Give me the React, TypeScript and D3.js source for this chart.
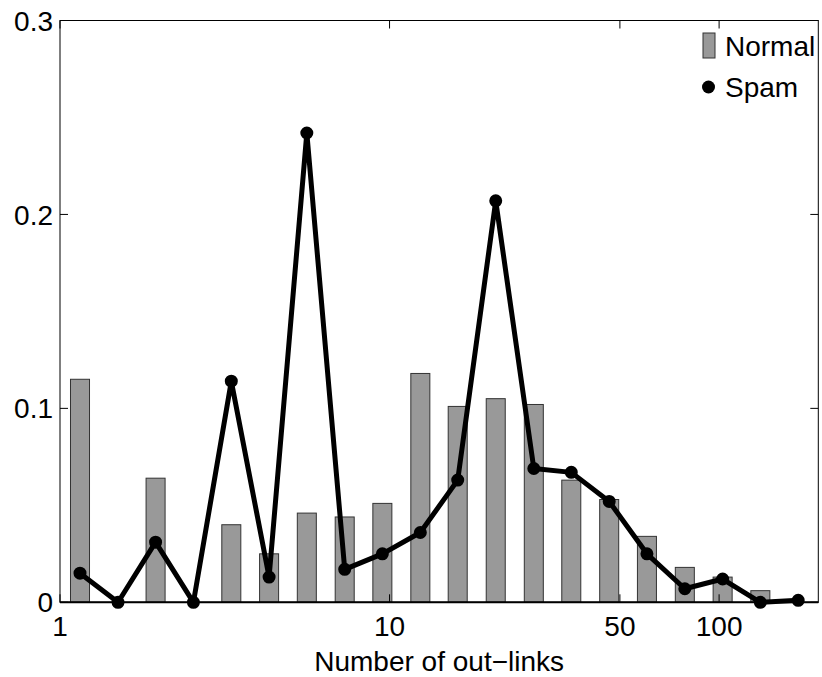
import React, { useEffect, useRef } from "react";
import * as d3 from "d3";

// bin centres (number of out-links)
const bins = [1.15, 1.5, 1.95, 2.54, 3.31, 4.31, 5.61, 7.31, 9.51, 12.4, 16.1, 21.0, 27.4, 35.6, 46.4, 60.4, 78.7, 102.5, 133.4, 173.8];
const normal = [0.115, 0, 0.064, 0, 0.040, 0.025, 0.046, 0.044, 0.051, 0.118, 0.101, 0.105, 0.102, 0.063, 0.053, 0.034, 0.018, 0.013, 0.006, 0];
const spam = [0.015, 0, 0.031, 0, 0.114, 0.013, 0.242, 0.017, 0.025, 0.036, 0.063, 0.207, 0.069, 0.067, 0.052, 0.025, 0.007, 0.012, 0, 0.001];
const xTicks = [1, 10, 50, 100];
const yTicks = [0, 0.1, 0.2, 0.3];
const xLabel = "Number of out\u2212links";

const W = 822;
const H = 677;
const FONT = "'Liberation Sans', Arial, Helvetica, sans-serif";

const Chart = () => {
  const ref = useRef<SVGSVGElement>(null);

  useEffect(() => {
    const svg = d3.select(ref.current);
    svg.selectAll("*").remove();

    const left = 60, right = 818.3, top = 20.5, bottom = 602.3;

    const x = d3.scaleLog().domain([1, 200]).range([left, right]);
    const y = d3.scaleLinear().domain([0, 0.3]).range([bottom, top]);

    const barW = (x(bins[1]) - x(bins[0])) * 0.5;

    // normal bars
    svg.append("g")
      .selectAll("rect")
      .data(bins.map((b, i) => ({ b, v: normal[i] })).filter(d => d.v > 0))
      .enter()
      .append("rect")
      .attr("x", d => x(d.b) - barW / 2)
      .attr("y", d => y(d.v))
      .attr("width", barW)
      .attr("height", d => y(0) - y(d.v))
      .attr("fill", "#999999")
      .attr("stroke", "#333")
      .attr("stroke-width", 1);

    // axes box
    svg.append("rect")
      .attr("x", left).attr("y", top)
      .attr("width", right - left).attr("height", bottom - top)
      .attr("fill", "none").attr("stroke", "#000").attr("stroke-width", 1);
    svg.append("line")
      .attr("x1", left).attr("x2", right)
      .attr("y1", bottom).attr("y2", bottom)
      .attr("stroke", "#000").attr("stroke-width", 2);

    const tl = 8;
    yTicks.forEach(t => {
      svg.append("line").attr("x1", left).attr("x2", left + tl).attr("y1", y(t)).attr("y2", y(t)).attr("stroke", "#000");
      svg.append("line").attr("x1", right - tl).attr("x2", right).attr("y1", y(t)).attr("y2", y(t)).attr("stroke", "#000");
      svg.append("text")
        .attr("x", left - 7)
        .attr("y", y(t))
        .attr("dy", "0.36em")
        .attr("text-anchor", "end")
        .style("font-family", FONT)
        .style("font-size", "28px")
        .text(t === 0 ? "0" : d3.format(".1f")(t));
    });
    xTicks.forEach(t => {
      svg.append("line").attr("x1", x(t)).attr("x2", x(t)).attr("y1", bottom).attr("y2", bottom - tl).attr("stroke", "#000");
      svg.append("line").attr("x1", x(t)).attr("x2", x(t)).attr("y1", top).attr("y2", top + tl).attr("stroke", "#000");
      svg.append("text")
        .attr("x", x(t))
        .attr("y", bottom + 34)
        .attr("text-anchor", "middle")
        .style("font-family", FONT)
        .style("font-size", "28px")
        .text(t);
    });

    svg.append("text")
      .attr("x", (left + right) / 2)
      .attr("y", 671)
      .attr("text-anchor", "middle")
      .style("font-family", FONT)
      .style("font-size", "28px")
      .text(xLabel);

    // spam line + markers
    const line = d3.line<number>()
      .x((d, i) => x(bins[i]))
      .y(d => y(d));
    svg.append("path")
      .datum(spam)
      .attr("d", line)
      .attr("fill", "none")
      .attr("stroke", "#000")
      .attr("stroke-width", 5)
      .attr("stroke-linejoin", "round");
    svg.append("g")
      .selectAll("circle")
      .data(spam)
      .enter()
      .append("circle")
      .attr("cx", (d, i) => x(bins[i]))
      .attr("cy", d => y(d))
      .attr("r", 5.5)
      .attr("fill", "#000")
      .attr("stroke", "#000")
      .attr("stroke-width", 2);

    // legend
    const lg = svg.append("g");
    lg.append("rect")
      .attr("x", 703).attr("y", 33).attr("width", 12).attr("height", 25)
      .attr("fill", "#999999").attr("stroke", "#333");
    lg.append("text")
      .attr("x", 725).attr("y", 56)
      .style("font-family", FONT).style("font-size", "28px")
      .text("Normal");
    lg.append("circle")
      .attr("cx", 708.5).attr("cy", 87).attr("r", 6.5).attr("fill", "#000");
    lg.append("text")
      .attr("x", 725).attr("y", 97)
      .style("font-family", FONT).style("font-size", "28px")
      .text("Spam");
  }, []);

  return <svg ref={ref} width={W} height={H} style={{ display: "block", background: "#fff" }}></svg>;
};

export default function App() {
  return (
    <div style={{ position: "absolute", left: 0, top: 0 }}>
      <Chart />
    </div>
  );
}
